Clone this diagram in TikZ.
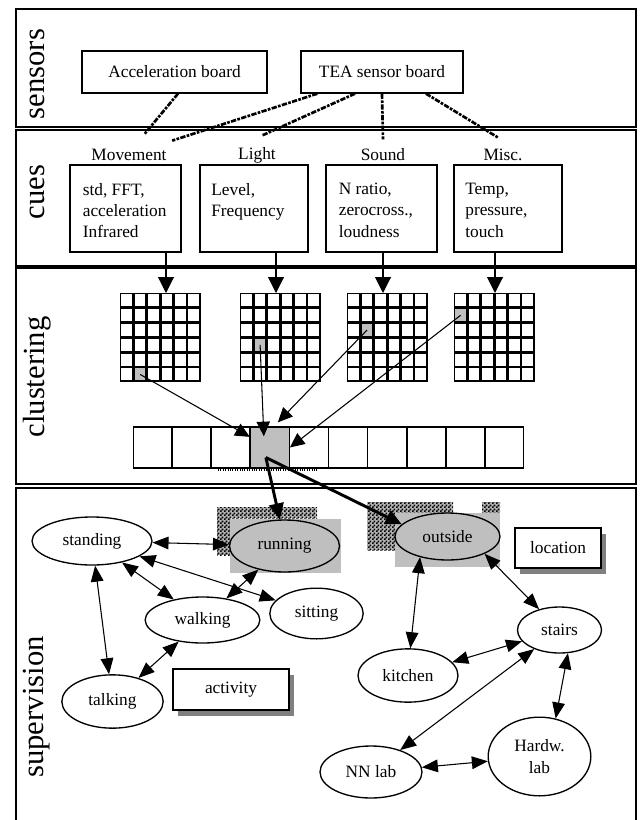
\documentclass[tikz,border=0pt]{standalone}
\usepackage{fontspec}
\setmainfont{Liberation Serif}
\usetikzlibrary{arrows.meta,shapes.geometric,shadows,patterns}

\newcommand{\cuelines}[1]{\parbox[c][38pt][t]{64pt}{\raggedright #1}}
\pgfdeclarepatternformonly{finechecker}{\pgfpointorigin}{\pgfqpoint{3pt}{3pt}}{\pgfqpoint{3pt}{3pt}}{%
  \pgfpathrectangle{\pgfpointorigin}{\pgfqpoint{1.5pt}{1.5pt}}%
  \pgfpathrectangle{\pgfqpoint{1.5pt}{1.5pt}}{\pgfqpoint{1.5pt}{1.5pt}}%
  \pgfusepath{fill}}

\begin{document}
\begin{tikzpicture}[x=0.75pt,y=0.75pt,yscale=-1,
  font=\fontsize{13}{16}\selectfont,
  band/.style={line width=1.1pt},
  bandlabel/.style={rotate=90,font=\fontsize{23}{26}\selectfont,inner sep=0pt},
  sensorbox/.style={draw,line width=1pt,minimum height=31.5pt,inner sep=0pt},
  cuename/.style={inner sep=1pt},
  cuebox/.style={draw,line width=1pt,minimum height=65.25pt,inner sep=0pt},
  sensorlink/.style={line width=2pt,dash pattern=on 4pt off 1pt on 2pt off 1pt},
  cuelink/.style={-{Triangle[length=12pt,width=12pt]},line width=0.8pt},
  gridcell/.style={draw,line width=1.2pt},
  hotcell/.style={draw,line width=1.2pt,fill=black!25,minimum width=9.15pt,minimum height=10.2pt,inner sep=0pt},
  barcell/.style={draw,line width=1pt,minimum width=29pt,minimum height=30.75pt,inner sep=0pt},
  cluslink/.style={-{Triangle[length=11pt,width=10pt]},line width=0.8pt},
  winner/.style={-{Triangle[length=12pt,width=11pt]},line width=2.2pt},
  dither/.style={fill=black!30,postaction={pattern=finechecker,pattern color=black}},
  situation/.style={ellipse,draw,line width=1pt,inner sep=0pt},
  active/.style={situation,fill=black!25},
  classbox/.style={draw,line width=1pt,fill=white,inner sep=0pt,
    drop shadow={shadow xshift=4pt,shadow yshift=-4.5pt,fill=gray,opacity=1}},
  rel/.style={<->,>={Triangle[length=12pt,width=9.5pt]},line width=0.8pt}
]
\useasboundingbox (0,0) rectangle (642,820);

% layers of the system
\draw[band] (16,9) rectangle (636,127);
\draw[band] (16,130) rectangle (636,266);
\draw[band] (16,268) rectangle (636,484);
\draw[band] (16,830) -- (16,488) -- (636,488) -- (636,830);

\node[bandlabel] (lsensors) at (37,74) {sensors};
\node[bandlabel] (lcues) at (37,192) {cues};
\node[bandlabel] (lclustering) at (37,377) {clustering};
\node[bandlabel] (lsupervision) at (37,707) {supervision};

% sensors
\node[sensorbox,minimum width=138.75pt] (accel) at (174.5,72) {Acceleration board};
\node[sensorbox,minimum width=121.5pt] (tea) at (382,72) {TEA sensor board};

% cues
\node[cuename] (movlbl) at (129,155) {Movement};
\node[cuename] (lightlbl) at (257,155) {Light};
\node[cuename] (soundlbl) at (383,155) {Sound};
\node[cuename] (misclbl) at (503,155) {Misc.};

\node[cuebox,minimum width=83.25pt] (movbox) at (125.5,208.5) {\cuelines{std, FFT,\\acceleration\\Infrared}};
\node[cuebox,minimum width=81pt] (lightbox) at (254,208.5) {\cuelines{Level,\\Frequency}};
\node[cuebox,minimum width=83.25pt] (soundbox) at (381.5,208.5) {\cuelines{N ratio,\\zerocross.,\\loudness}};
\node[cuebox,minimum width=81pt] (miscbox) at (508,208.5) {\cuelines{Temp,\\pressure,\\touch}};

\draw[sensorlink] ([xshift=2.6pt]accel.south) -- ([xshift=11.25pt,yshift=-9.75pt]movlbl.north);
\draw[sensorlink] ([xshift=12.75pt]tea.south west) -- ([xshift=3pt,yshift=-5.25pt]movlbl.north east);
\draw[sensorlink] ([xshift=-20.25pt]tea.south) -- ([xshift=3.75pt,yshift=-7.5pt]lightlbl.north);
\draw[sensorlink] (tea.south) -- ([yshift=-6pt]soundlbl.north);
\draw[sensorlink] ([xshift=33pt]tea.south) -- ([xshift=-3.75pt,yshift=-7.5pt]misclbl.north);

% clustering: one map per cue
\foreach \gx/\hc/\hr [count=\g] in {120/2/6,240/2/4,347/2/3,454/1/2}{
  \foreach \c in {1,...,6}{
    \foreach \r in {1,...,6}{
      \draw[gridcell] (\gx+13.4*\c-12.8,293+14.8*\r-14.2) rectangle ++(12.2,13.6);
    }
  }
  \node[hotcell] (hot\g) at (\gx+13.4*\hc-6.7,293+14.8*\hr-7.4) {};
}

\coordinate (g1in) at (166,293);
\coordinate (g2in) at (276,293);
\coordinate (g3in) at (383,293);
\coordinate (g4in) at (495,293);
\draw[cuelink] (movbox.south -| g1in) -- (g1in);
\draw[cuelink] (lightbox.south -| g2in) -- (g2in);
\draw[cuelink] (soundbox.south -| g3in) -- (g3in);
\draw[cuelink] (miscbox.south -| g4in) -- (g4in);

% combined vector
\foreach \i in {1,...,10}{
  \ifnum\i=4 \def\barfill{black!25}\else\def\barfill{white}\fi
  \node[barcell,fill=\barfill] (bar\i) at (113.45+39.1*\i,447.5) {};
}
\draw[densely dotted,line width=0.8pt] (218,470) -- (317,470);

\draw[cluslink] (hot1.center) -- (bar4.152);
\draw[cluslink] (hot2.center) -- ([xshift=-4.5pt,yshift=7.5pt]bar4.north);
\draw[cluslink] (hot3.center) -- ([xshift=6pt,yshift=-3pt]bar4.north);
\draw[cluslink] (hot4.center) -- (bar4.east);

% supervision
\fill[dither] (217,507) rectangle (317,518);
\fill[dither] (217,507) rectangle (230,555);
\fill[black!25] (230,519) rectangle (341,573);
\fill[dither] (367,502) rectangle (453,550);
\fill[dither] (482,502) rectangle (500,513);
\fill[black!25] (395,513) rectangle (500,567);

\node[active,minimum width=82.5pt,minimum height=39pt] (running) at (284.5,546) {running};
\node[active,minimum width=78.75pt,minimum height=35.25pt] (outside) at (447.5,536.5) {outside};
\node[situation,minimum width=90pt,minimum height=36pt] (standing) at (92,541) {standing};
\node[situation,minimum width=86pt,minimum height=34.5pt] (walking) at (202.5,620) {walking};
\node[situation,minimum width=70pt,minimum height=38pt] (sitting) at (316.5,613.5) {sitting};
\node[situation,minimum width=76pt,minimum height=40pt] (talking) at (112.5,701.5) {talking};
\node[situation,minimum width=75pt,minimum height=40pt] (kitchen) at (408,675.5) {kitchen};
\node[situation,minimum width=63pt,minimum height=34.5pt] (stairs) at (559.5,630) {stairs};
\node[situation,minimum width=76.5pt,minimum height=39pt] (nnlab) at (371,772) {NN lab};
\node[situation,minimum width=77pt,minimum height=59pt,align=center] (hardw) at (539.5,756.5) {Hardw.\\lab};
\node[classbox,minimum width=64.5pt,minimum height=30pt] (location) at (558,548) {location};
\node[classbox,minimum width=87pt,minimum height=30.75pt] (activity) at (231,689.5) {activity};

\draw[winner] ([xshift=-3pt,yshift=7.5pt]bar4.center) -- (running.100);
\draw[winner] ([xshift=-3pt,yshift=7.5pt]bar4.center) -- (outside.165);

\draw[rel] (standing) -- (running);
\draw[rel] (standing) -- (walking);
\draw[rel] (standing) -- (sitting);
\draw[rel] (standing) -- (talking);
\draw[rel] (running) -- (walking);
\draw[rel] (walking) -- (talking);
\draw[rel] (outside.217) -- (kitchen.85);
\draw[rel] (outside.-25) -- (stairs);
\draw[rel] (stairs) -- (kitchen);
\draw[rel] (stairs) -- (nnlab);
\draw[rel] (stairs.-70) -- (hardw.67);
\draw[rel] (nnlab) -- (hardw);

\end{tikzpicture}
\end{document}
